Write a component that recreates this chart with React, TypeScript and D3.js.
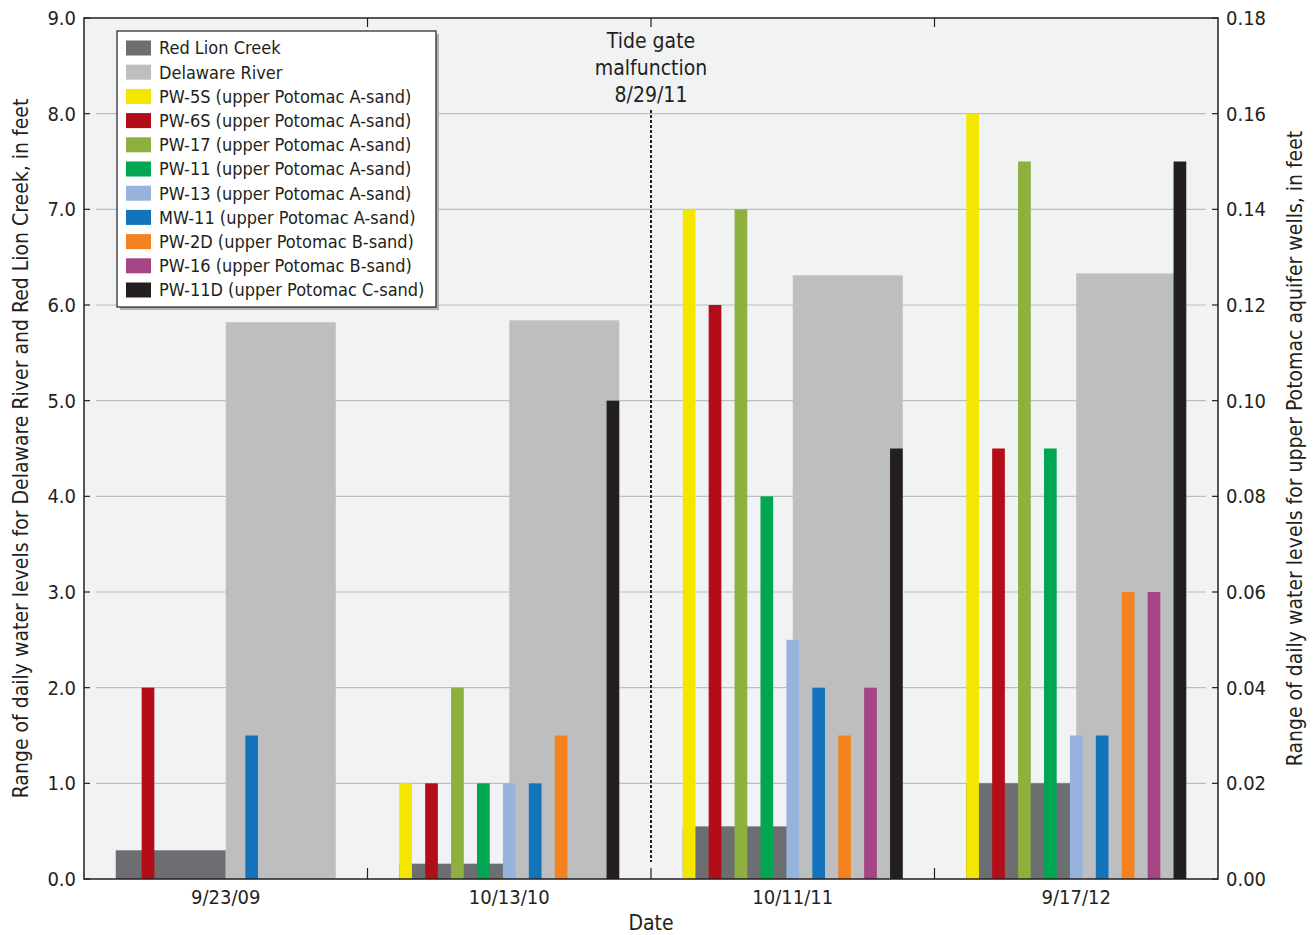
import React from 'react';
import * as d3 from 'd3';

// Dates (categories)
const dates = ['9/23/09', '10/13/10', '10/11/11', '9/17/12'];

// Left axis series (feet)
const surfaceNames = ['Red Lion Creek', 'Delaware River'];
const redLionCreek = [0.3, 0.16, 0.55, 1.0];
const delawareRiver = [5.82, 5.84, 6.31, 6.33];

// Right axis series (feet), null = no data
const wellNames = [
  'PW-5S (upper Potomac A-sand)',
  'PW-6S (upper Potomac A-sand)',
  'PW-17 (upper Potomac A-sand)',
  'PW-11 (upper Potomac A-sand)',
  'PW-13 (upper Potomac A-sand)',
  'MW-11 (upper Potomac A-sand)',
  'PW-2D (upper Potomac B-sand)',
  'PW-16 (upper Potomac B-sand)',
  'PW-11D (upper Potomac C-sand)',
];
const pw5s = [null, 0.02, 0.14, 0.16];
const pw6s = [0.04, 0.02, 0.12, 0.09];
const pw17 = [null, 0.04, 0.14, 0.15];
const pw11 = [null, 0.02, 0.08, 0.09];
const pw13 = [null, 0.02, 0.05, 0.03];
const mw11 = [0.03, 0.02, 0.04, 0.03];
const pw2d = [null, 0.03, 0.03, 0.06];
const pw16 = [null, null, 0.04, 0.06];
const pw11d = [null, 0.1, 0.09, 0.15];

const leftTicks = [0, 1, 2, 3, 4, 5, 6, 7, 8, 9];
const rightTicks = [0, 0.02, 0.04, 0.06, 0.08, 0.1, 0.12, 0.14, 0.16, 0.18];

const surfaceColors = ['#6d6e71', '#bcbec0'];
const wellColors = ['#f5e600', '#b20e17', '#8db03f', '#00a651', '#95b3dd', '#1374bb', '#f58220', '#a54585', '#231f20'];

const FONT = "'Liberation Sans Narrow', 'DejaVu Sans Condensed', 'Roboto', sans-serif";

const App = () => {
  const W = 1315;
  const H = 935;
  const m = { left: 84, right: 1218, top: 18, bottom: 879 };

  const x = d3.scaleBand<string>().domain(dates).range([m.left, m.right]).padding(0);
  const yL = d3.scaleLinear().domain([0, 9]).range([m.bottom, m.top]);
  const yR = d3.scaleLinear().domain([0, 0.18]).range([m.bottom, m.top]);

  const half = 110;
  const xs = d3.scaleBand<number>().domain([0, 1]).range([-half, half]).padding(0);
  const xw = d3
    .scaleBand<number>()
    .domain(d3.range(9))
    .range([-half, half])
    .paddingInner(0.51)
    .paddingOuter(0);

  const surfaceData = [redLionCreek, delawareRiver];
  const wellData = [pw5s, pw6s, pw17, pw11, pw13, mw11, pw2d, pw16, pw11d];

  const center = (d: string) => (x(d) as number) + x.bandwidth() / 2;
  const boundaries = dates.slice(1).map((d) => x(d) as number);
  const tideX = boundaries[1];

  return (
    <svg width={W} height={H} style={{ display: 'block', position: 'absolute', left: 0, top: 0 }} fontFamily={FONT}>
      <rect x={0} y={0} width={W} height={H} fill="#ffffff" />
      <rect x={m.left} y={m.top} width={m.right - m.left} height={m.bottom - m.top} fill="#f1f2f4" />

      {/* gridlines */}
      {leftTicks.slice(1, -1).map((t) => (
        <line key={'g' + t} x1={m.left + 12} x2={m.right - 12} y1={yL(t)} y2={yL(t)} stroke="#bcbec0" strokeWidth={1.2} />
      ))}

      {/* surface water bars */}
      {surfaceData.map((series, si) =>
        series.map((v, i) => (
          <rect
            key={'s' + si + '-' + i}
            x={center(dates[i]) + (xs(si) as number)}
            width={xs.bandwidth()}
            y={yL(v)}
            height={yL(0) - yL(v)}
            fill={surfaceColors[si]}
          />
        ))
      )}

      {/* well bars */}
      {wellData.map((series, wi) =>
        series.map((v, i) =>
          v == null ? null : (
            <rect
              key={'w' + wi + '-' + i}
              x={center(dates[i]) + (xw(wi) as number)}
              width={xw.bandwidth()}
              y={yR(v)}
              height={yR(0) - yR(v)}
              fill={wellColors[wi]}
            />
          )
        )
      )}

      {/* tide gate line */}
      <line x1={tideX} x2={tideX} y1={110} y2={862} stroke="#231f20" strokeWidth={2} strokeDasharray="3,2" />
      <g fontSize={21} fill="#231f20" textAnchor="middle">
        <text x={tideX} y={48}>Tide gate</text>
        <text x={tideX} y={75}>malfunction</text>
        <text x={tideX} y={102}>8/29/11</text>
      </g>

      {/* frame */}
      <rect x={m.left} y={m.top} width={m.right - m.left} height={m.bottom - m.top} fill="none" stroke="#231f20" strokeWidth={1.5} />

      {/* category ticks */}
      {boundaries.map((b) => (
        <g key={'b' + b}>
          <line x1={b} x2={b} y1={m.bottom} y2={m.bottom - 11} stroke="#231f20" strokeWidth={1.2} />
          <line x1={b} x2={b} y1={m.top} y2={m.top + 9} stroke="#231f20" strokeWidth={1.2} />
        </g>
      ))}

      {/* left axis */}
      {leftTicks.map((t) => (
        <g key={'l' + t}>
          <line x1={m.left} x2={m.left + 6} y1={yL(t)} y2={yL(t)} stroke="#231f20" strokeWidth={1.2} />
          <text x={m.left - 8} y={yL(t)} dy="0.35em" textAnchor="end" fontSize={20} fill="#231f20">
            {d3.format('.1f')(t)}
          </text>
        </g>
      ))}

      {/* right axis */}
      {rightTicks.map((t) => (
        <g key={'r' + t}>
          <line x1={m.right - 6} x2={m.right} y1={yR(t)} y2={yR(t)} stroke="#231f20" strokeWidth={1.2} />
          <text x={m.right + 8} y={yR(t)} dy="0.35em" textAnchor="start" fontSize={20} fill="#231f20">
            {d3.format('.2f')(t)}
          </text>
        </g>
      ))}

      {/* x labels */}
      {dates.map((d) => (
        <text key={'x' + d} x={center(d)} y={904} textAnchor="middle" fontSize={20} fill="#231f20">
          {d}
        </text>
      ))}
      <text x={(m.left + m.right) / 2} y={930} textAnchor="middle" fontSize={21} fill="#231f20">
        Date
      </text>

      {/* axis titles */}
      <text
        transform={`translate(28,${(m.top + m.bottom) / 2}) rotate(-90)`}
        textAnchor="middle"
        fontSize={21}
        fill="#231f20"
      >
        Range of daily water levels for Delaware River and Red Lion Creek, in feet
      </text>
      <text
        transform={`translate(1302,${(m.top + m.bottom) / 2}) rotate(-90)`}
        textAnchor="middle"
        fontSize={21}
        fill="#231f20"
      >
        Range of daily water levels for upper Potomac aquifer wells, in feet
      </text>

      {/* legend */}
      <g>
        <rect x={120} y={34} width={319} height={276} fill="#b0b1b3" />
        <rect x={117} y={31} width={319} height={276} fill="#ffffff" stroke="#231f20" strokeWidth={1.2} />
        {[...surfaceNames, ...wellNames].map((name, i) => {
          const color = i < 2 ? surfaceColors[i] : wellColors[i - 2];
          const yy = 48 + i * 24.2;
          return (
            <g key={'lg' + i}>
              <rect x={126} y={yy - 7.5} width={25} height={15} fill={color} />
              <text x={159} y={yy} dy="0.35em" fontSize={18} fill="#231f20">
                {name}
              </text>
            </g>
          );
        })}
      </g>
    </svg>
  );
};

export default App;
